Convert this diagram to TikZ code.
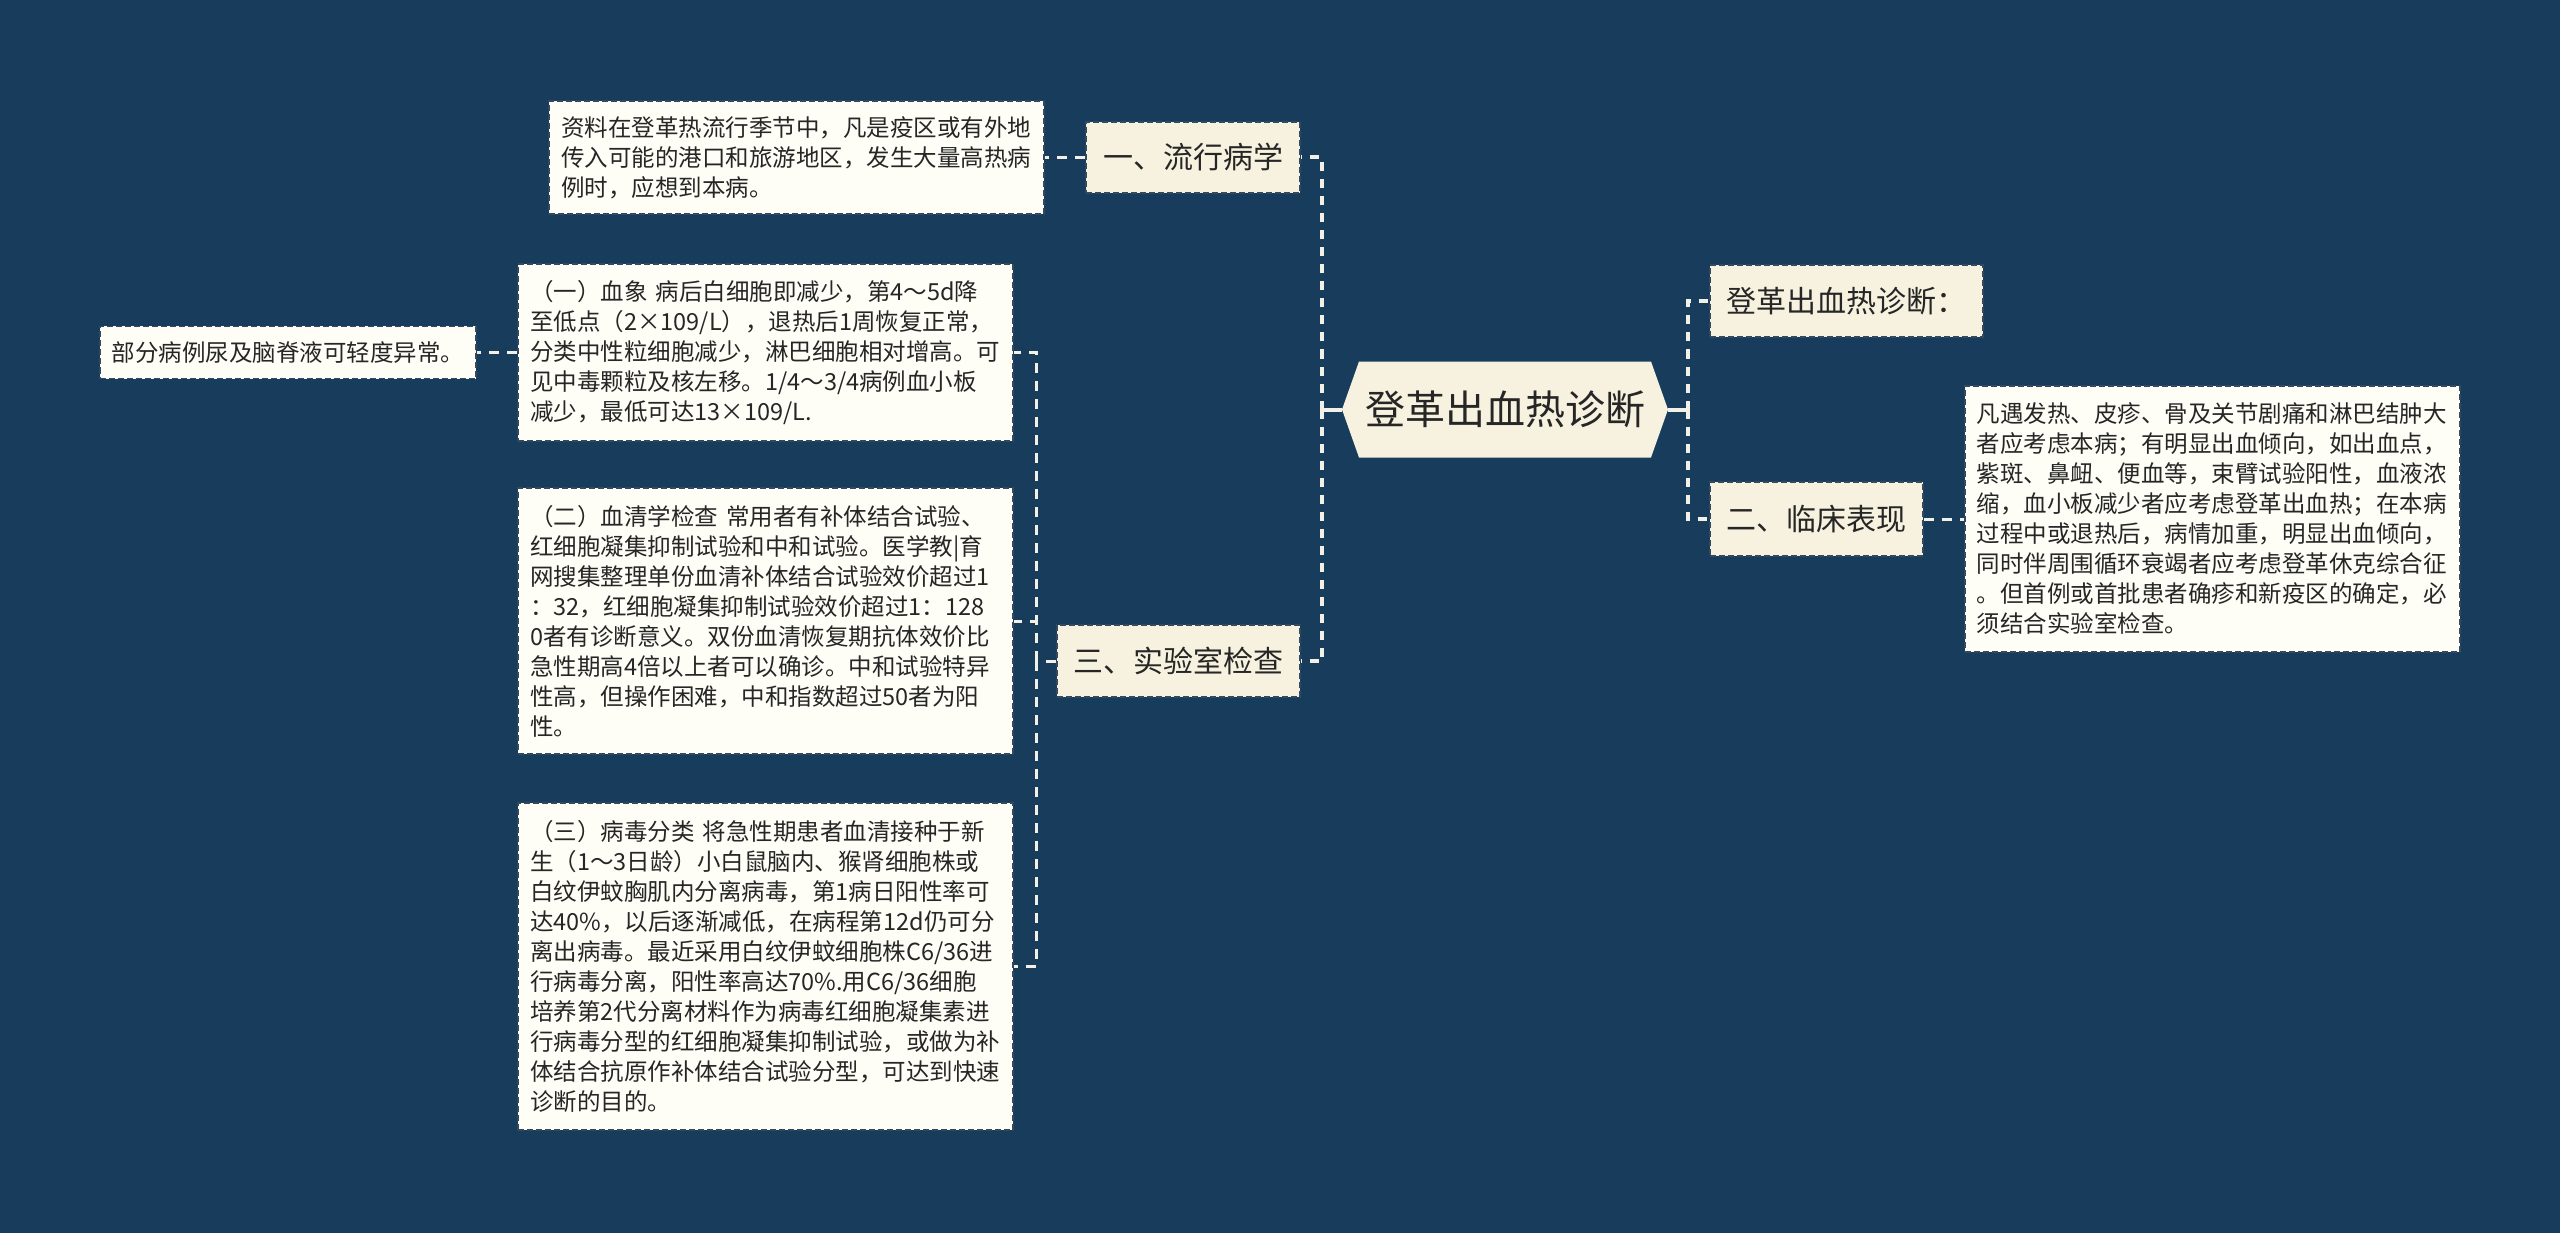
\documentclass[tikz,border=0pt]{standalone}
\usepackage{fontspec}
\setmainfont{Noto Sans CJK SC}
\usetikzlibrary{calc}
\definecolor{bg}{HTML}{173C5C}
\definecolor{lvfill}{HTML}{F7F2DF}
\definecolor{txfill}{HTML}{FEFEF7}
\definecolor{bord}{HTML}{34495E}
\definecolor{lnk}{HTML}{F3F1E7}
\definecolor{ink}{HTML}{262626}
\begin{document}
\begin{tikzpicture}[x=1pt,y=-1pt,
  lvbox/.style={fill=lvfill, draw=bord, line width=1.6pt, dash pattern=on 6pt off 3pt,
    inner sep=0pt, font=\fontsize{30}{36}\selectfont, text=ink},
  txbox/.style={fill=txfill, draw=bord, line width=1.6pt, dash pattern=on 6pt off 3pt,
    inner xsep=12pt, inner ysep=0pt, align=left, text width=471pt,
    font=\fontsize{23.5}{30}\selectfont, text=ink},
  smbox/.style={fill=txfill, draw=bord, line width=1.6pt, dash pattern=on 6pt off 3pt,
    inner xsep=12pt, inner ysep=0pt, font=\fontsize{23.5}{30}\selectfont, text=ink},
  roottext/.style={inner sep=0pt, font=\fontsize{40}{48}\selectfont, text=ink},
  stub/.style={draw=lnk, line width=4pt},
  conn/.style={draw=lnk, line width=4pt, dash pattern=on 9pt off 8pt},
  conn2/.style={draw=lnk, line width=3pt, dash pattern=on 10pt off 8pt}
]
\useasboundingbox (0,0) rectangle (2560,1233);
\fill[bg] (0,0) rectangle (2560,1233);

% root hexagon
\coordinate (rc) at (1505,409.5);
\fill[lvfill] ($(rc)+(-163,0)$) -- ($(rc)+(-146,-48)$) -- ($(rc)+(146,-48)$)
  -- ($(rc)+(163,0)$) -- ($(rc)+(146,48)$) -- ($(rc)+(-146,48)$) -- cycle;
\node[roottext, minimum width=326pt, minimum height=96pt] (root) at (rc) {登革出血热诊断};

% level 1
\node[lvbox, minimum width=214pt, minimum height=71pt, anchor=east] (n1) at (1301,157.5) {一、流行病学};
\node[lvbox, minimum width=243pt, minimum height=72pt, anchor=east] (n3) at (1301,661) {三、实验室检查};
\node[lvbox, minimum width=273pt, minimum height=72pt, anchor=west] (n2a) at (1709,301) {登革出血热诊断：};
\node[lvbox, minimum width=213pt, minimum height=74pt, anchor=west] (n2b) at (1709,519) {二、临床表现};

% text boxes
\node[txbox, minimum height=113pt, anchor=east] (t1) at (1045,157.5) {资料在登革热流行季节中，凡是疫区或有外地\\传入可能的港口和旅游地区，发生大量高热病\\例时，应想到本病。};
\node[txbox, minimum height=177pt, anchor=east] (b1) at (1014,352.5) {（一）血象 病后白细胞即减少，第4～5d降\\至低点（2×109/L），退热后1周恢复正常，\\分类中性粒细胞减少，淋巴细胞相对增高。可\\见中毒颗粒及核左移。1/4～3/4病例血小板\\减少，最低可达13×109/L.};
\node[smbox, minimum height=52pt, anchor=east] (b0) at (477,352.5) {部分病例尿及脑脊液可轻度异常。};
\node[txbox, minimum height=266pt, anchor=east] (b2) at (1014,621) {（二）血清学检查 常用者有补体结合试验、\\红细胞凝集抑制试验和中和试验。医学教|育\\网搜集整理单份血清补体结合试验效价超过1\\：32，红细胞凝集抑制试验效价超过1：128\\0者有诊断意义。双份血清恢复期抗体效价比\\急性期高4倍以上者可以确诊。中和试验特异\\性高，但操作困难，中和指数超过50者为阳\\性。};
\node[txbox, minimum height=327pt, anchor=east] (b3) at (1014,966.5) {（三）病毒分类 将急性期患者血清接种于新\\生（1～3日龄）小白鼠脑内、猴肾细胞株或\\白纹伊蚊胸肌内分离病毒，第1病日阳性率可\\达40\%，以后逐渐减低，在病程第12d仍可分\\离出病毒。最近采用白纹伊蚊细胞株C6/36进\\行病毒分离，阳性率高达70\%.用C6/36细胞\\培养第2代分离材料作为病毒红细胞凝集素进\\行病毒分型的红细胞凝集抑制试验，或做为补\\体结合抗原作补体结合试验分型，可达到快速\\诊断的目的。};
\node[txbox, minimum height=266pt, anchor=west] (rb) at (1964,519) {凡遇发热、皮疹、骨及关节剧痛和淋巴结肿大\\者应考虑本病；有明显出血倾向，如出血点，\\紫斑、鼻衄、便血等，束臂试验阳性，血液浓\\缩，血小板减少者应考虑登革出血热；在本病\\过程中或退热后，病情加重，明显出血倾向，\\同时伴周围循环衰竭者应考虑登革休克综合征\\。但首例或首批患者确疹和新疫区的确定，必\\须结合实验室检查。};

% connectors
\coordinate (lj) at (1322,409.5);
\coordinate (rj) at (1688,409.5);
\coordinate (mj) at (1036,661);
\draw[stub] (root.west) -- (lj);
\draw[stub] (root.east) -- (rj);
\draw[conn] (lj) |- (n1.east);
\draw[conn] (lj) |- (n3.east);
\draw[conn] (rj) |- (n2a.west);
\draw[conn] (rj) |- (n2b.west);
\draw[conn2] (n1.west) -- (t1.east);
\draw[conn2] (n3.west) -- (mj);
\draw[conn2] (mj) |- (b1.east);
\draw[conn2] (mj) |- (b2.east);
\draw[conn2] (mj) |- (b3.east);
\draw[conn2] (b1.west) -- (b0.east);
\draw[conn2] (n2b.east) -- (rb.west);
\end{tikzpicture}
\end{document}
